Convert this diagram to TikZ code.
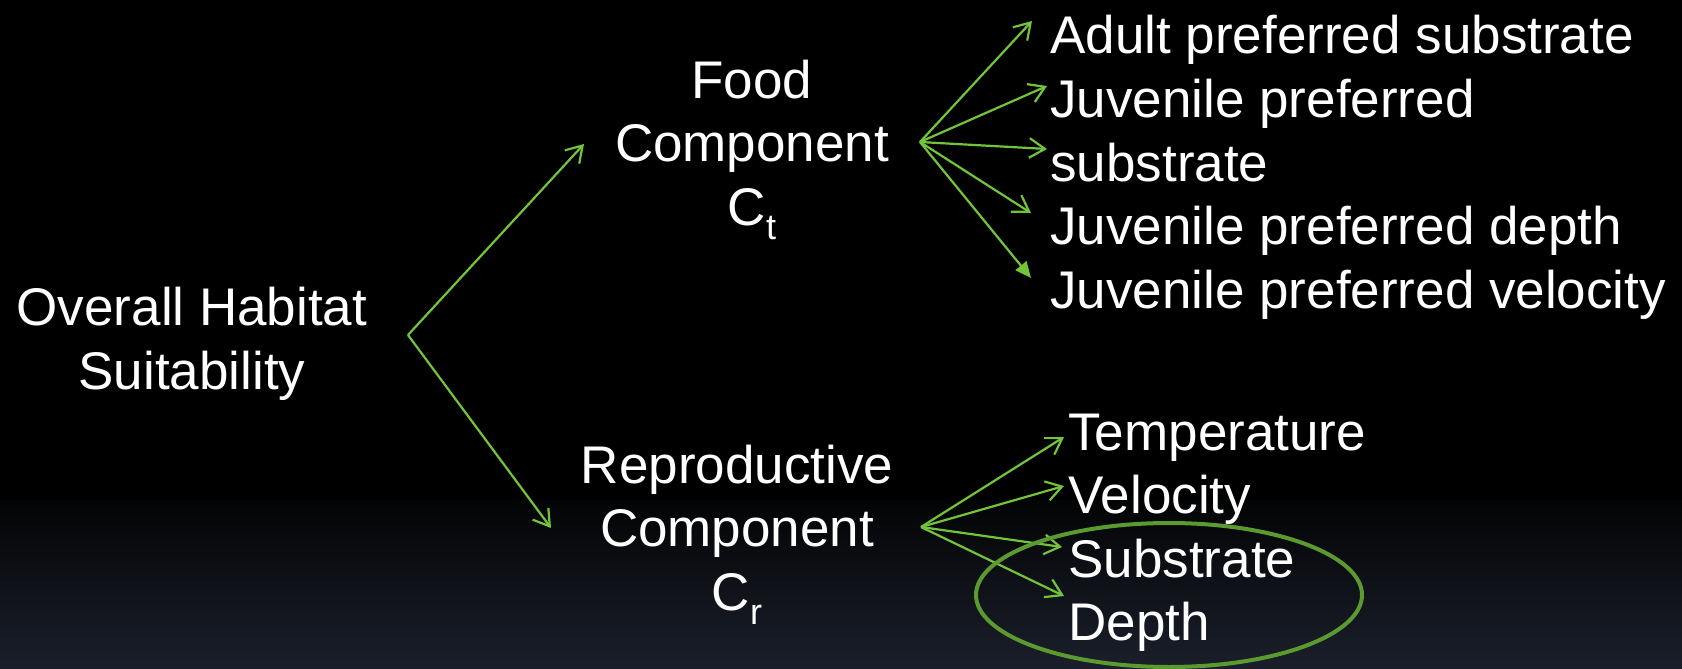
\documentclass[tikz,border=0pt]{standalone}
\usepackage{fontspec}
\setmainfont{Liberation Sans}
\usetikzlibrary{arrows.meta,shapes.geometric}
\definecolor{arrowgreen}{HTML}{72C43A}
\definecolor{ringgreen}{HTML}{5B9A2F}
\definecolor{bgbottom}{HTML}{1B1F2B}
\definecolor{bgmid}{HTML}{030405}
\newcommand{\subsc}[1]{\raisebox{-7pt}{\fontsize{18}{18}\selectfont #1}}
\begin{document}
\begin{tikzpicture}[x=0.5pt,y=-0.5pt,
  lbl/.style={text=white,inner sep=0pt,font=\fontsize{26.5}{31.75}\selectfont},
  conn/.style={draw=arrowgreen,line width=1.1pt,-{Straight Barb[length=7.8pt,width=9.8pt]}},
  connfill/.style={draw=arrowgreen,line width=1.1pt,-{Triangle[length=8pt,width=7pt]}},
  ring/.style={draw=ringgreen,line width=2pt,ellipse,inner sep=0pt}]
% background
\fill[black] (0,0) rectangle (1682,669);
\shade[top color=bgmid, bottom color=bgbottom] (0,500) rectangle (1682,669);
\useasboundingbox (0,0) rectangle (1682,669);

% main labels (anchor=base is the baseline of the last line)
\node[lbl,align=center,anchor=base] (ohs) at (192,389) {Overall Habitat\\Suitability};
\node[lbl,align=center,anchor=base] (food) at (752,225) {Food\\Component\\C\subsc{t}};
\node[lbl,align=center,anchor=base] (repr) at (737,610) {Reproductive\\Component\\C\subsc{r}};

% food items
\node[lbl,anchor=base west] (f1) at (1050,54) {Adult preferred substrate};
\node[lbl,anchor=base west] (f2) at (1050,117.5) {Juvenile preferred};
\node[lbl,anchor=base west] (f3) at (1050,181) {substrate};
\node[lbl,anchor=base west] (f4) at (1050,244.5) {Juvenile preferred depth};
\node[lbl,anchor=base west] (f5) at (1050,308) {Juvenile preferred velocity};

% reproductive items
\node[lbl,anchor=base west] (r1) at (1068,450) {Temperature};
\node[lbl,anchor=base west] (r2) at (1068,513.5) {Velocity};
\node[lbl,anchor=base west] (r3) at (1068,577) {Substrate};
\node[lbl,anchor=base west] (r4) at (1068,640.5) {Depth};

% connector points
\coordinate (a0) at (408,335);
\coordinate (tf) at (584,144);
\coordinate (tr) at (551,528);
\coordinate (fa) at (920,142);
\coordinate (tf1) at (1032,21);
\coordinate (tf2) at (1047,86);
\coordinate (tf3) at (1047,149);
\coordinate (tf4) at (1031,213);
\coordinate (tf5) at (1031,278);
\coordinate (ra) at (921,527);
\coordinate (tr1) at (1064,437);
\coordinate (tr2) at (1064,486);
\coordinate (tr3) at (1062,547);
\coordinate (tr4) at (1064,596);

\draw[conn] (a0) -- (tf);
\draw[conn] (a0) -- (tr);
\draw[conn] (fa) -- (tf1);
\draw[conn] (fa) -- (tf2);
\draw[conn] (fa) -- (tf3);
\draw[conn] (fa) -- (tf4);
\draw[connfill] (fa) -- (tf5);
\draw[conn] (ra) -- (tr1);
\draw[conn] (ra) -- (tr2);
\draw[conn] (ra) -- (tr3);
\draw[conn] (ra) -- (tr4);

% highlight ring
\node[ring,minimum width=193pt,minimum height=72pt] (hl) at (1169,595) {};
\end{tikzpicture}
\end{document}
